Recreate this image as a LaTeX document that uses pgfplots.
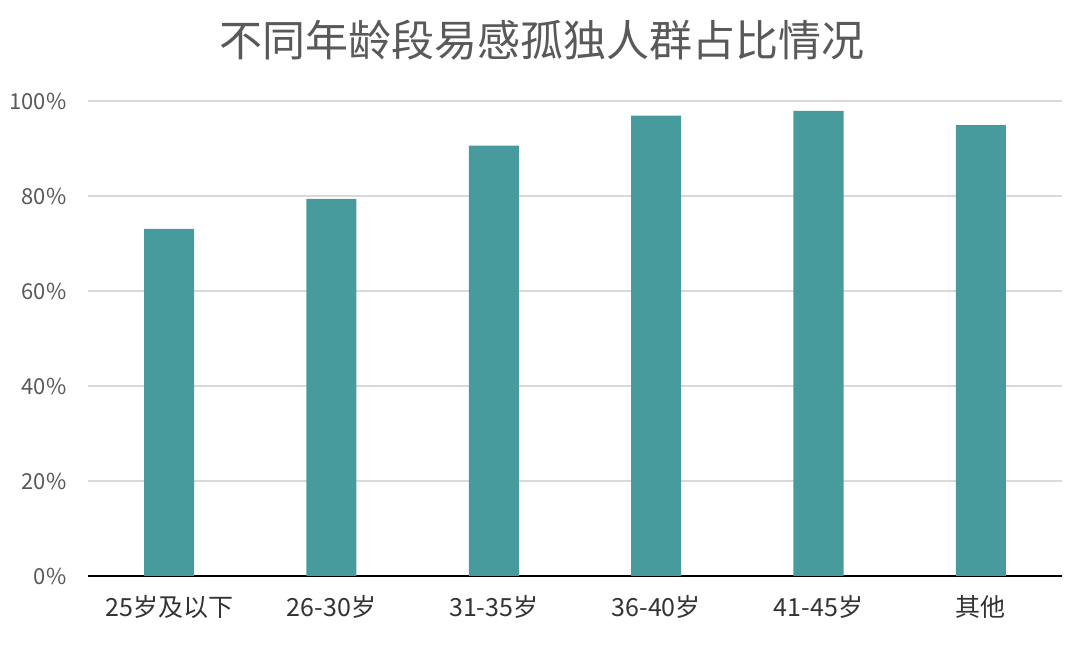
\documentclass[border=0pt]{standalone}
\usepackage{pgfplots}
\pgfplotsset{compat=1.18}
\usepackage{fontspec}
\setmainfont{Noto Sans CJK SC}
\definecolor{barteal}{HTML}{479B9C}
\definecolor{gridgray}{HTML}{D9D9D9}
\definecolor{ticky}{HTML}{595959}
\definecolor{tickx}{HTML}{333333}
\definecolor{titlegray}{HTML}{595959}

\begin{document}
\begin{tikzpicture}[x=1pt,y=1pt]
  % page frame 1080 x 648
  \path[use as bounding box] (0,0) rectangle (1080,648);
  \node[text=titlegray,font=\fontsize{43}{48}\selectfont] at (542,608) {不同年龄段易感孤独人群占比情况};
  \begin{axis}[
    at={(88pt,72pt)}, anchor=south west,
    scale only axis, width=974pt, height=475pt,
    xmin=-0.5, xmax=5.5, ymin=0, ymax=100,
    axis x line=bottom, axis y line=left,
    x axis line style={black,line width=1.2pt,-},
    y axis line style={draw=none},
    xtick=data,
    xticklabels={25岁及以下,26-30岁,31-35岁,36-40岁,41-45岁,其他},
    x tick label style={text=tickx,font=\fontsize{25}{28}\selectfont,yshift=-16pt},
    major tick length=0pt,
    ytick={0,20,40,60,80,100},
    yticklabel={\pgfmathprintnumber{\tick}\%},
    y tick label style={text=ticky,font=\fontsize{22}{24}\selectfont,xshift=-18pt},
    /pgf/number format/assume math mode=true,
    extra y ticks={20,40,60,80,100}, extra y tick labels={},
    extra y tick style={grid=major, major grid style={gridgray,line width=1.2pt}},
    ybar, bar width=50pt,
    clip=false,
  ]
  \addplot[fill=barteal, draw=none] coordinates {
    (0,73.1) (1,79.4) (2,90.6) (3,96.9) (4,97.9) (5,94.9)
  };
  \end{axis}
\end{tikzpicture}
\end{document}
